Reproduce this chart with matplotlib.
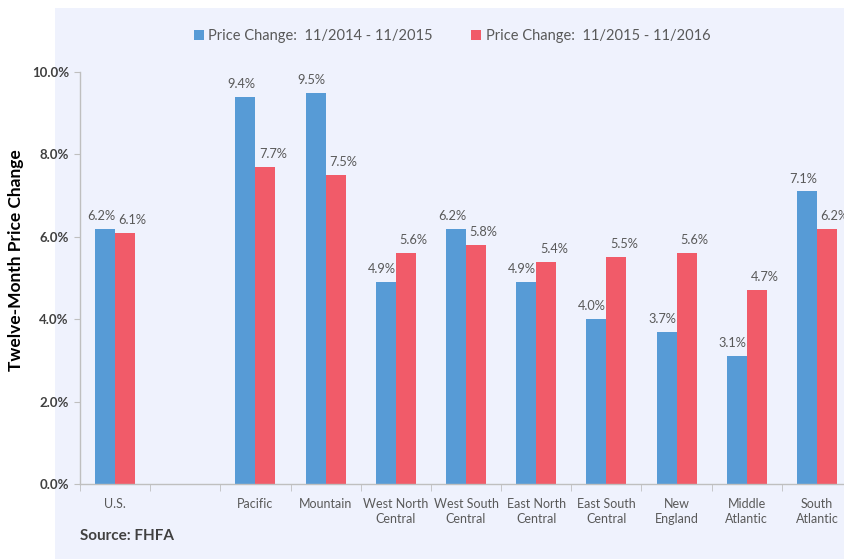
import matplotlib.pyplot as plt
import numpy as np
from matplotlib.patches import Rectangle
from matplotlib.ticker import FuncFormatter, MultipleLocator

plt.rcParams["font.family"] = ["Lato", "DejaVu Sans"]

# regions; the blank slot keeps the national figure apart from the regions
regions = ["U.S.", "", "Pacific", "Mountain", "West North\nCentral",
           "West South\nCentral", "East North\nCentral", "East South\nCentral",
           "New\nEngland", "Middle\nAtlantic", "South\nAtlantic"]
chg_2015 = [6.2, np.nan, 9.4, 9.5, 4.9, 6.2, 4.9, 4.0, 3.7, 3.1, 7.1]
chg_2016 = [6.1, np.nan, 7.7, 7.5, 5.6, 5.8, 5.4, 5.5, 5.6, 4.7, 6.2]
series_names = ["Price Change:  11/2014 - 11/2015", "Price Change:  11/2015 - 11/2016"]

BLUE = "#579bd6"
RED = "#f15b69"
BG = "#eff2fd"
GREY = "#595959"

fig = plt.figure(figsize=(8.44, 5.59), dpi=100)
fig.patch.set_facecolor("white")
fig.patches.append(Rectangle((55 / 844, 0), 1, 1 - 8 / 559, transform=fig.transFigure,
                             facecolor=BG, edgecolor="none", zorder=-10))

ax = fig.add_axes([80 / 844, 75 / 559, 772 / 844, 412 / 559])
ax.set_facecolor("none")

x = np.arange(len(regions))
w = 0.285
b1 = ax.bar(x - w / 2, chg_2015, w, color=BLUE, label=series_names[0])
b2 = ax.bar(x + w / 2, chg_2016, w, color=RED, label=series_names[1])

# value labels sit a little outward from each pair, as in the source deck
for bars, vals, dx in ((b1, chg_2015, -3), (b2, chg_2016, 5.5)):
    for rect, v in zip(bars, vals):
        if np.isnan(v):
            continue
        ax.annotate(f"{v:.1f}%", (rect.get_x() + rect.get_width() / 2, v),
                    xytext=(dx, 5), textcoords="offset points",
                    ha="center", va="bottom", fontsize=9.2, color=GREY)

ax.set_xlim(-0.5, len(regions) - 0.5)
ax.set_ylim(0, 10)
ax.yaxis.set_major_locator(MultipleLocator(2))
ax.yaxis.set_major_formatter(FuncFormatter(lambda v, _: f"{v:.1f}%"))
ax.set_xticks(x)
ax.set_xticklabels(regions, fontsize=9, color=GREY, linespacing=1.35)
ax.set_xticks(np.arange(len(regions) + 1) - 0.5, minor=True)
ax.tick_params(axis="x", which="major", length=0, pad=10)
ax.tick_params(axis="x", which="minor", length=5, color="#bfbfbf", direction="out")
ax.tick_params(axis="y", length=4, color="#bfbfbf", labelsize=9.5, labelcolor="#404040", pad=4)
for lab in ax.get_yticklabels():
    lab.set_fontweight("bold")

for side in ("top", "right"):
    ax.spines[side].set_visible(False)
for side in ("left", "bottom"):
    ax.spines[side].set_color("#bfbfbf")
    ax.spines[side].set_linewidth(1)

fig.text(16 / 844, 1 - 260 / 559, "Twelve-Month Price Change", rotation=90,
         ha="center", va="center", fontsize=12.5, fontweight="bold", color="black")
fig.text(80 / 844, 1 - 536 / 559, "Source: FHFA", ha="left", va="center",
         fontsize=11, fontweight="bold", color="#404040")

fig.legend(handles=[b1, b2], loc="center", bbox_to_anchor=(452 / 844, 1 - 36 / 559),
           ncol=2, frameon=False, fontsize=10.5, labelcolor=GREY,
           handlelength=0.7, handleheight=0.7, handletextpad=0.3, columnspacing=2.6)

fig.savefig("out.png", dpi=100)
